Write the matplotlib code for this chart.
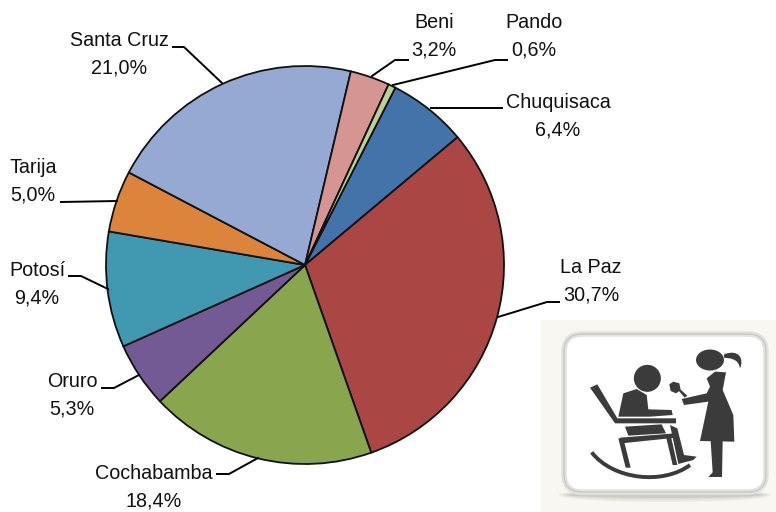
import numpy as np
import matplotlib.pyplot as plt
from matplotlib.patches import FancyBboxPatch, Ellipse, Polygon, Rectangle, PathPatch
from matplotlib.path import Path

plt.rcParams['font.family'] = ['Liberation Sans', 'DejaVu Sans']

regions = ['Chuquisaca', 'La Paz', 'Cochabamba', 'Oruro', 'Potosí', 'Tarija', 'Santa Cruz', 'Beni', 'Pando']
shares = [6.4, 30.7, 18.4, 5.3, 9.4, 5.0, 21.0, 3.2, 0.6]
labels = ['6,4%', '30,7%', '18,4%', '5,3%', '9,4%', '5,0%', '21,0%', '3,2%', '0,6%']
colors = ['#4373a8', '#aa4644', '#89a64e', '#735a94', '#4098b1', '#dd843c', '#95a9d2', '#d59593', '#bccf95']

W, H = 776, 512
fig = plt.figure(figsize=(W / 100, H / 100), dpi=100)
ax = fig.add_axes([0, 0, 1, 1])

# pie in pixel coordinates, y axis is flipped so angles run clockwise on screen
cx, cy, r = 305, 265, 199
ax.pie(shares, colors=colors, center=(cx, cy), radius=r, startangle=-63, counterclock=True,
       wedgeprops=dict(edgecolor='#111111', linewidth=1.3), frame=False)
ax.set_xlim(0, W)
ax.set_ylim(H, 0)
ax.set_aspect('auto')
ax.axis('off')

text_pos = [(558, 116), (591, 281), (154, 487), (72, 395), (37, 284), (33, 181), (119, 54), (434, 36), (534, 36)]
leaders = [
    [(502, 108), (431, 108)],
    [(559, 302), (547, 302), (498, 317)],
    [(217, 474), (229, 474), (258, 458)],
    [(102, 388), (114, 388), (139, 375)],
    [(69, 276), (81, 276), (108, 289)],
    [(61, 202), (117, 201)],
    [(173, 47), (184, 47), (222, 83)],
    [(408, 60), (395, 60), (372, 76)],
    [(507, 60), (495, 60), (393, 85)],
]
for name, lab, (tx, ty), pts in zip(regions, labels, text_pos, leaders):
    ax.text(tx, ty, name + '\n' + lab, ha='center', va='center', fontsize=14.2,
            color='#111111', linespacing=1.55)
    xs, ys = zip(*pts)
    ax.plot(xs, ys, color='black', lw=1.4)


# icon shapes are written in pixels of the 3x crop of the corner
def ic(pts):
    return [(540 + x / 3, 315 + y / 3) for x, y in pts]


dark = '#3b3b3b'
ax.add_patch(Rectangle((541, 320), 235, 192, fc='#f8f7f1', ec='none', zorder=3))
for w, h, a in [(212, 14, 0.15), (204, 10, 0.2), (196, 6, 0.3)]:
    ax.add_patch(Ellipse((665, 495), w, h, fc='#a8a8a0', ec='none', alpha=a, zorder=3))
ax.add_patch(FancyBboxPatch((564, 334), 202, 158, boxstyle='round,pad=0,rounding_size=18',
                            fc='white', ec='#e2e2de', lw=4, zorder=3))
ax.add_patch(FancyBboxPatch((564, 334), 202, 158, boxstyle='round,pad=0,rounding_size=18',
                            fc='none', ec='#c8c8c4', lw=1.0, zorder=3))
shapes = [
    # chair back and arm rest
    [(150, 218), (172, 208), (232, 310), (408, 310), (408, 325), (225, 325)],
    # seated man
    [(235, 305), (250, 235), (290, 222), (320, 240), (325, 283), (395, 285), (398, 300), (330, 305)],
    # man's leg and foot
    [(390, 330), (412, 340), (432, 420), (470, 425), (460, 435), (415, 447), (405, 400)],
    # seat panel
    [(255, 335), (365, 328), (378, 355), (265, 362)],
    # seat frame
    [(240, 368), (405, 355), (408, 368), (245, 385)],
    # chair legs
    [(235, 370), (250, 370), (272, 458), (257, 458)],
    [(378, 365), (393, 365), (412, 450), (398, 450)],
    # woman dress
    [(500, 190), (525, 170), (558, 172), (548, 225), (580, 300), (583, 380), (480, 378), (505, 260), (432, 270),
     (425, 252), (500, 235), (510, 215)],
    # woman legs
    [(512, 378), (548, 378), (546, 486), (505, 486), (518, 472)],
    # flower bloom and stem
    [(388, 208), (400, 200), (418, 205), (422, 225), (408, 235), (392, 228)],
    [(415, 226), (422, 224), (442, 242), (434, 248)],
]
for s in shapes:
    ax.add_patch(Polygon(ic(s), fc=dark, ec='none', zorder=4))

# rocker and ponytail are curves
rocker = Path(ic([(155, 412), (220, 495), (370, 510), (450, 450)]), [Path.MOVETO, Path.CURVE4, Path.CURVE4, Path.CURVE4])
ax.add_patch(PathPatch(rocker, fc='none', ec=dark, lw=2.8, zorder=4))
tail = Path(ic([(552, 118), (600, 100), (612, 135), (600, 160), (595, 130), (570, 130), (552, 128), (552, 118)]),
            [Path.MOVETO, Path.CURVE4, Path.CURVE4, Path.CURVE4, Path.CURVE4, Path.CURVE4, Path.CURVE4, Path.CLOSEPOLY])
ax.add_patch(PathPatch(tail, fc=dark, ec='none', zorder=4))
ax.add_patch(Ellipse(ic([(510, 135)])[0], 28, 21, fc=dark, ec='none', zorder=4))
ax.add_patch(Ellipse(ic([(322, 190)])[0], 27, 27, fc=dark, ec='none', zorder=4))

fig.savefig('out.png', dpi=100)
